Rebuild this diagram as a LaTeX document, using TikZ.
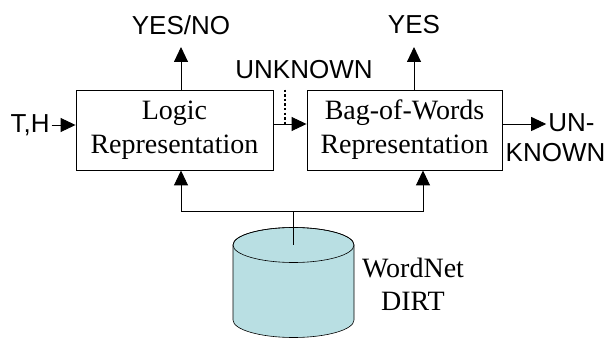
\documentclass[tikz,border=0pt]{standalone}
\usepackage{fontspec}
\setmainfont{Liberation Serif}
\setsansfont{Liberation Sans}
\usetikzlibrary{positioning, arrows.meta, calc}
\definecolor{DbCyan}{RGB}{185,223,227}

\tikzset{
  repbox/.style={rectangle, draw, line width=0.9pt, minimum width=197pt, minimum height=80pt,
    inner sep=0pt, align=center, font=\fontsize{28}{34}\selectfont},
  outlabel/.style={inner sep=2pt, font=\sffamily\fontsize{26}{30}\selectfont},
  flow/.style={-{Triangle[length=15pt,width=14pt]}, line width=0.9pt}
}

\begin{document}
\begin{tikzpicture}[x=1pt, y=-1pt]
  \useasboundingbox (0,0) rectangle (608,339);
  % Nodos
  \node[repbox] (logic) at (174.5,130) {Logic\\Representation};
  \node[repbox, minimum width=195pt] (bow) at (404.5,130) {Bag-of-Words\\Representation};
  \node[align=center, font=\fontsize{28}{33}\selectfont] (dbname) at (413,284) {WordNet\\DIRT};

  % Cilindro (base de datos)
  \filldraw[fill=DbCyan, line width=0.6pt] (233,245) -- (233,320)
    arc[start angle=180, end angle=0, x radius=60.5, y radius=17.5] -- (354,245)
    arc[start angle=0, end angle=-180, x radius=60.5, y radius=17.5] -- cycle;
  \draw[line width=0.6pt] (293.5,245) ellipse [x radius=60.5, y radius=17.5];

  % Etiquetas
  \node[outlabel] (th) at (30,125) {T,H};
  \node[outlabel] (yesno) at (181,25) {YES/NO};
  \node[outlabel] (yes) at (414,25) {YES};
  \node[outlabel] (unknown) at (304,70) {UNKNOWN};
  \node[outlabel] (unA) at (571.5,123) {UN-};
  \node[outlabel] (unB) at (555.5,153) {KNOWN};
  \coordinate (gate) at (285,124);
  \coordinate (jn) at (293,211);
  \coordinate (dbtop) at (293,245);

  % Conexiones
  \draw[flow] (th.east |- 0,125) -- (logic.west |- 0,125);
  \draw[flow] (logic.north -| yesno) -- (181,47);
  \draw[flow] (bow.north -| yes) -- (414,47);
  \draw[flow] (logic.east |- gate) -- (bow.west |- gate);
  \draw[line width=2.4pt, dash pattern=on 2.4pt off 2.2pt] (logic.north -| gate) -- (gate);
  \draw[flow] ($(bow.east)+(0,-6)$) -- (unA.west |- 0,124);
  \draw[line width=0.9pt] (dbtop) -- (jn);
  \draw[flow] (jn) -| ($(logic.south)+(6.5,0)$);
  \draw[flow] (jn) -| ($(bow.south)+(18.5,0)$);
\end{tikzpicture}
\end{document}
